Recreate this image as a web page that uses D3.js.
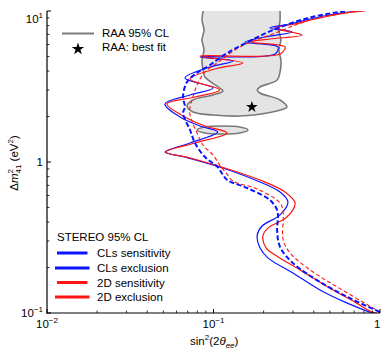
<!DOCTYPE html>
<html><head><meta charset="utf-8">
<script src="https://cdn.jsdelivr.net/npm/d3@7"></script>
<style>body{margin:0;background:#fff}svg{display:block}text{font-family:"Liberation Sans",Arial,sans-serif;fill:#000}</style>
</head><body><svg id="c" width="381" height="351"></svg>
<script>
// ---- data ----
const xTickValues = [0.01, 0.1, 1];
const xTickLabels = [["10", "−2"], ["10", "−1"], ["1", ""]];
const yTickValues = [0.1, 1, 10];
const yTickLabels = [["10", "−1"], ["1", ""], ["10", "1"]];

// [sin^2(2θee), Δm²41 (eV²)]
const clsExclusion = [
 [0.738,10],[0.537,9.553],[0.380,8.852],[0.288,8.202],[0.218,7.717],[0.296,7.261],[0.204,6.728],
 [0.155,6.234],[0.244,5.776],[0.234,5.193],[0.0830,4.960],[0.131,4.666],[0.0953,4.258],[0.0674,3.600],
 [0.0993,3.091],[0.0723,2.778],[0.0511,2.422],[0.0629,1.987],[0.0830,1.732],[0.106,1.580],[0.0723,1.336],
 [0.0511,1.165],[0.0674,1.079],[0.109,0.927],[0.178,0.760],[0.251,0.633],[0.280,0.543],[0.251,0.446],
 [0.196,0.377],[0.183,0.328],[0.190,0.270],[0.213,0.231],[0.300,0.184],[0.436,0.142],[0.616,0.118],
 [0.836,0.103],[0.908,0.1]
];
const twoDExclusion = [
 [0.813,10],[0.575,9.553],[0.407,8.852],[0.309,8.202],[0.234,7.717],[0.340,6.936],[0.218,6.526],
 [0.166,6.234],[0.269,5.776],[0.251,5.193],[0.0830,5.036],[0.150,4.526],[0.102,4.130],[0.0723,3.545],
 [0.109,2.999],[0.0774,2.695],[0.0526,2.422],[0.0674,1.987],[0.0889,1.732],[0.121,1.556],[0.0774,1.336],
 [0.0518,1.165],[0.0723,1.063],[0.117,0.913],[0.190,0.760],[0.269,0.633],[0.309,0.535],[0.276,0.432],
 [0.213,0.366],[0.198,0.324],[0.207,0.270],[0.241,0.238],[0.331,0.193],[0.501,0.146],[0.708,0.118],
 [0.895,0.1015],[0.959,0.1]
];
const clsSensitivity = [
 [0.616,10],[0.370,8.988],[0.228,7.485],[0.161,6.234],[0.121,5.272],[0.0953,4.390],[0.0796,3.886],
 [0.0693,3.387],[0.0656,2.695],[0.0674,2.313],[0.0656,2.111],[0.0723,1.629],[0.0774,1.336],[0.0889,1.079],
 [0.106,0.927],[0.112,0.846],[0.121,0.760],[0.159,0.673],[0.218,0.560],[0.241,0.481],[0.244,0.432],
 [0.241,0.355],[0.251,0.274],[0.300,0.214],[0.418,0.165],[0.634,0.128],[1.0,0.1015]
];
const twoDSensitivity = [
 [0.708,10],[0.380,8.718],[0.244,7.261],[0.144,5.776],[0.105,4.526],[0.0889,3.945],[0.0796,3.236],
 [0.0753,2.695],[0.0723,2.313],[0.0723,2.048],[0.0796,1.556],[0.0865,1.296],[0.0993,1.113],[0.109,0.955],
 [0.119,0.846],[0.131,0.748],[0.183,0.663],[0.251,0.535],[0.262,0.459],[0.262,0.304],[0.288,0.250],
 [0.380,0.193],[0.552,0.149],[0.908,0.108],[1.0,0.1015]
];
const raaRegion = [
 [0.0865,12],[0.0865,10],[0.0853,8.718],[0.0877,7.485],[0.0853,6.427],[0.0877,5.518],[0.0853,4.737],
 [0.0865,4.068],[0.0889,3.655],[0.109,3.091],[0.114,2.953],[0.0993,2.778],[0.0753,2.574],[0.0693,2.349],
 [0.0753,2.143],[0.0993,2.048],[0.144,2.017],[0.210,2.111],[0.276,2.313],[0.251,2.574],[0.190,2.864],
 [0.183,2.999],[0.190,3.139],[0.241,3.492],[0.251,3.945],[0.254,4.737],[0.247,5.518],[0.254,6.427],
 [0.247,7.485],[0.251,8.718],[0.251,10],[0.251,12]
];
const raaIsland = [
 [0.0796,1.629],[0.0889,1.705],[0.112,1.732],[0.144,1.705],[0.161,1.629],[0.144,1.556],[0.112,1.532],[0.0889,1.556]
];
const raaBestFit = [0.170, 2.313];

const legendStereo = ["CLs sensitivity", "CLs exclusion", "2D sensitivity", "2D exclusion"];

// ---- drawing ----
const svg = d3.select("#c");
const x = d3.scaleLog().domain([0.01, 1]).range([47, 380]);
const y = d3.scaleLog().domain([0.1, 10]).range([313, 11]);

svg.append("clipPath").attr("id", "clip").append("rect")
  .attr("x", 47).attr("y", 11).attr("width", 333).attr("height", 302);
const plot = svg.append("g").attr("clip-path", "url(#clip)");

const lineGen = d3.line().x(d => x(d[0])).y(d => y(d[1])).curve(d3.curveCatmullRom.alpha(0.5));
const closedGen = d3.line().x(d => x(d[0])).y(d => y(d[1])).curve(d3.curveCatmullRomClosed.alpha(0.5));

plot.append("path").attr("d", closedGen(raaRegion))
  .attr("fill", "#e4e4e4").attr("stroke", "#7a7a7a").attr("stroke-width", 1.6);
plot.append("path").attr("d", closedGen(raaIsland))
  .attr("fill", "#e4e4e4").attr("stroke", "#7a7a7a").attr("stroke-width", 1.6);

const BLUE = "#0a14ff", RED = "#ff1414";
plot.append("path").attr("d", lineGen(clsExclusion)).attr("fill", "none")
  .attr("stroke", BLUE).attr("stroke-width", 1.2);
plot.append("path").attr("d", lineGen(twoDExclusion)).attr("fill", "none")
  .attr("stroke", RED).attr("stroke-width", 1.2);
plot.append("path").attr("d", lineGen(twoDSensitivity)).attr("fill", "none")
  .attr("stroke", RED).attr("stroke-width", 1.1).attr("stroke-dasharray", "4,2.5");
plot.append("path").attr("d", lineGen(clsSensitivity)).attr("fill", "none")
  .attr("stroke", BLUE).attr("stroke-width", 2).attr("stroke-dasharray", "5,2.5");

const star = d3.symbol().type(d3.symbolStar).size(42);
svg.append("path").attr("d", star())
  .attr("transform", `translate(${x(raaBestFit[0])},${y(raaBestFit[1])})`).attr("fill", "#000");

// ---- axes ----
const ax = svg.append("g").attr("stroke", "#000");
ax.append("line").attr("x1", 47).attr("x2", 47).attr("y1", 11).attr("y2", 313.5).attr("stroke-width", 1.2);
ax.append("line").attr("x1", 46.5).attr("x2", 380).attr("y1", 313).attr("y2", 313).attr("stroke-width", 1.2);

const minor = [];
[0.01, 0.1].forEach(d => { for (let k = 2; k <= 9; k++) minor.push(d * k); });
const yMinor = [];
[0.1, 1].forEach(d => { for (let k = 2; k <= 9; k++) yMinor.push(d * k); });

xTickValues.forEach(v => ax.append("line").attr("x1", x(v)).attr("x2", x(v)).attr("y1", 313).attr("y2", 309).attr("stroke-width", 1));
minor.forEach(v => ax.append("line").attr("x1", x(v)).attr("x2", x(v)).attr("y1", 313).attr("y2", 310.5).attr("stroke-width", 0.8));
yTickValues.forEach(v => ax.append("line").attr("x1", 47).attr("x2", 51).attr("y1", y(v)).attr("y2", y(v)).attr("stroke-width", 1));
yMinor.forEach(v => ax.append("line").attr("x1", 47).attr("x2", 49.5).attr("y1", y(v)).attr("y2", y(v)).attr("stroke-width", 0.8));

const FS = 11.5;
xTickValues.forEach((v, i) => {
  const last = i === xTickValues.length - 1;
  const t = svg.append("text").attr("x", last ? 380.5 : x(v)).attr("y", 328)
    .attr("text-anchor", last ? "end" : "middle").attr("font-size", FS);
  t.append("tspan").text(xTickLabels[i][0]);
  if (xTickLabels[i][1]) t.append("tspan").attr("dy", -5).attr("font-size", 8).text(xTickLabels[i][1]);
});
yTickValues.forEach((v, i) => {
  const t = svg.append("text").attr("x", 43).attr("y", Math.max(y(v) + 4, 23)).attr("text-anchor", "end").attr("font-size", FS);
  t.append("tspan").text(yTickLabels[i][0]);
  if (yTickLabels[i][1]) t.append("tspan").attr("dy", -5).attr("font-size", 8).text(yTickLabels[i][1]);
});

// axis titles
const xt = svg.append("text").attr("x", 190).attr("y", 345).attr("font-size", FS);
xt.append("tspan").text("sin");
xt.append("tspan").attr("dy", -5).attr("font-size", 8).text("2");
xt.append("tspan").attr("dy", 5).text("(2");
xt.append("tspan").attr("font-style", "italic").text("θ");
xt.append("tspan").attr("dy", 3).attr("font-size", 8).attr("font-style", "italic").text("ee");
xt.append("tspan").attr("dy", -3).text(")");

const yt = svg.append("text").attr("transform", "translate(18,163) rotate(-90)").attr("text-anchor", "middle").attr("font-size", FS);
yt.append("tspan").text("Δ");
yt.append("tspan").attr("font-style", "italic").text("m");
yt.append("tspan").attr("dy", -5).attr("font-size", 8).text("2");
yt.append("tspan").attr("dx", -4.5).attr("dy", 8).attr("font-size", 8).text("41");
yt.append("tspan").attr("dy", -3).text(" (eV");
yt.append("tspan").attr("dy", -5).attr("font-size", 8).text("2");
yt.append("tspan").attr("dy", 5).text(")");

// RAA legend
svg.append("line").attr("x1", 62).attr("x2", 94).attr("y1", 33.5).attr("y2", 33.5).attr("stroke", "#7a7a7a").attr("stroke-width", 2);
svg.append("text").attr("x", 102).attr("y", 37).attr("font-size", FS).text("RAA 95% CL");
svg.append("path").attr("d", d3.symbol().type(d3.symbolStar).size(48)()).attr("transform", "translate(78,49)").attr("fill", "#000");
svg.append("text").attr("x", 102).attr("y", 51).attr("font-size", FS).text("RAA: best fit");

// STEREO legend
svg.append("text").attr("x", 57).attr("y", 241).attr("font-size", FS).text("STEREO 95% CL");
const legColors = [BLUE, BLUE, RED, RED];
const legY = [253, 268, 282.5, 297];
legendStereo.forEach((s, i) => {
  const long = i % 2 === 1;
  svg.append("line").attr("x1", long ? 55 : 57).attr("x2", long ? 89.5 : 87.5)
    .attr("y1", legY[i]).attr("y2", legY[i]).attr("stroke", legColors[i]).attr("stroke-width", 3);
  svg.append("text").attr("x", 97).attr("y", legY[i] + 4).attr("font-size", FS).text(s);
});
</script></body></html>
